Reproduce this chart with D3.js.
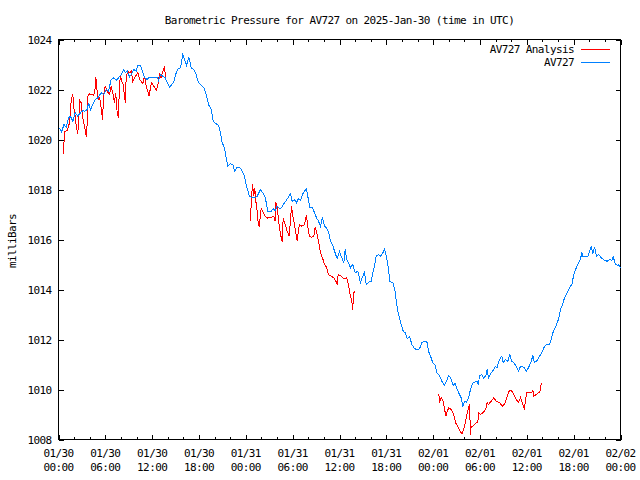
<!DOCTYPE html>
<html>
<head>
<meta charset="utf-8">
<script src="https://cdn.jsdelivr.net/npm/d3@7"></script>
<style>
  html, body { margin: 0; padding: 0; background: #fff; }
  svg { display: block; }
  text { font-family: "DejaVu Sans Mono", "Liberation Mono", monospace; font-size: 11px; letter-spacing: -0.6px; fill: #000; }
</style>
</head>
<body>
<script>
// ---------------- DATA ----------------
const chartTitle = "Barometric Pressure for AV727 on 2025-Jan-30 (time in UTC)";
const yAxisLabel = "milliBars";
const seriesNames = ["AV727 Analysis", "AV727"];
const seriesColors = ["#ff0000", "#0080ff"];
const startTimeUTC = Date.UTC(2025, 0, 30, 0, 0);
const endTimeUTC = Date.UTC(2025, 1, 2, 0, 0);
const yTickValues = [1008, 1010, 1012, 1014, 1016, 1018, 1020, 1022, 1024];

// AV727 observations: minutes since 2025-01-30 00:00 UTC, pressure (mb)
const blueMinutes = [8,15,25,41,59,77,92,110,128,148,169,187,200,221,231,246,264,282,302,328,348,367,384,405,425,444,461,482,502,513,528,546,563,579,597,610,630,640,661,682,700,717,738,759,769,784,802,820,840,853,871,886,905,922,938,955,969,984,1002,1020,1040,1058,1076,
1117,1135,1153,1174,1189,1212,1230,1245,1258,1276,1289,1301,1322,1340,1353,1374,1391,1409,1430,1445,1468,1486,1507,1527,1553,1570,1589,1609,1635,1650,1666,1681,1701,1716,1732,1750,1768,1783,1796,1814,1829,1845,1860,1878,1891,1906,1916,1932,1952,1968,1983,1999,2014,2029,2045,2060,2075,2091,2106,2122,2142,2160,2173,2193,2204,2214,2229,2245,2262,2281,2301,2321,2339,2352,2365,2383,2404,2416,2429,2442,2460,2475,2493,2506,2521,2537,2547,2570,2588,2598,2608,2621,2634,2650,2665,2680,2700,2716,2737,2757,2775,2793,2813,2834,2844,2860,2877,2896,2911,2929,2946,2967,2982,2998,3013,3034,3049,3065,3082,3095,3108,3121,3136,3152,3167,3182,3198,
3218,3228,3236,3254,3269,3288,3295,3305,3326,3346,3357,3372,3382,3398,3408,3418,3434,3454,3469,3484,3500,3518,3536,3551,3569,3582,3595,3613,3634,3646,3659,3680,3697,3715,3730,3749,3774,3787,3800,3818,3834,3849,3859,3874,3890,3910,3928,3946,3961,3980,3997,4013,4023,4030,4049,4069,4084,4095,4107,4120,4136,4151,4172,4197,4218,4235,4253,4264,4279,4295,4305,4318];
const blueValues = [1020.45,1020.40,1020.30,1020.60,1020.50,1020.87,1020.93,1020.73,1021.07,1020.93,1021.07,1021.16,1021.13,1021.20,1021.47,1021.20,1021.40,1021.60,1021.67,1021.87,1021.80,1022.00,1021.93,1022.40,1022.47,1022.36,1022.47,1022.60,1022.80,1022.67,1022.76,1022.50,1022.63,1022.80,1022.73,1022.97,1022.97,1022.80,1022.47,1022.40,1022.50,1022.50,1022.50,1022.50,1022.36,1022.60,1022.53,1022.47,1022.23,1022.10,1022.20,1022.30,1022.67,1022.84,1022.87,1023.40,1023.20,1022.97,1023.30,1022.87,1022.80,1022.60,1022.27,
1022.07,1021.80,1021.40,1021.20,1020.73,1020.63,1020.57,1020.27,1019.87,1019.67,1019.27,1018.93,1019.03,1019.00,1018.73,1018.90,1018.90,1018.76,1018.53,1018.13,1017.73,1017.69,1017.67,1017.73,1018.00,1017.87,1017.69,1017.13,1017.13,1017.23,1017.16,1017.33,1017.24,1017.27,1017.43,1017.56,1017.69,1017.83,1017.53,1017.60,1017.47,1017.64,1017.56,1017.83,1017.93,1018.04,1017.73,1017.29,1017.27,1017.07,1016.87,1016.73,1016.53,1016.89,1016.53,1016.47,1016.31,1015.93,1015.80,1015.53,1015.23,1015.53,1015.33,1015.07,1015.60,1015.23,1015.07,1014.87,1015.00,1014.67,1014.73,1014.27,1014.53,1014.69,1014.20,1014.29,1014.33,1014.67,1014.93,1015.33,1015.40,1015.33,1015.47,1015.60,1015.33,1014.80,1014.33,1014.27,1013.93,1013.47,1013.13,1012.87,1012.60,1012.33,1012.27,1012.03,1012.11,1011.80,1011.63,1011.60,1011.63,1011.87,1011.93,1011.89,1011.53,1011.33,1011.07,1010.96,1010.64,1010.56,1010.33,1010.16,1010.33,1010.56,1010.47,1010.16,1010.24,1010.00,1009.80,1009.67,1009.33,1009.53,1009.49,1009.67,1010.00,1010.24,1010.29,
1010.33,1010.20,1010.56,1010.60,1010.43,1010.60,1010.80,1010.47,1010.67,1010.80,1010.93,1010.87,1011.09,1011.27,1011.33,1011.07,1011.20,1011.13,1011.40,1011.13,1011.07,1010.93,1010.73,1010.93,1010.91,1010.87,1010.73,1010.87,1011.13,1011.36,1011.07,1011.17,1011.33,1011.47,1011.67,1011.80,1011.80,1012.00,1012.27,1012.47,1012.67,1012.91,1013.20,1013.40,1013.67,1013.87,1014.07,1014.20,1014.60,1014.87,1015.07,1015.23,1015.49,1015.31,1015.31,1015.33,1015.57,1015.71,1015.44,1015.71,1015.33,1015.40,1015.27,1015.17,1015.13,1015.20,1015.17,1015.31,1015.04,1014.96,1015.00,1014.87];

// AV727 Analysis: minutes since 2025-01-30 00:00 UTC, pressure (mb); null marks a gap
const redMinutes = [38,46,67,85,98,110,118,128,138,148,156,164,174,184,194,205,215,221,225,238,256,271,282,287,297,307,317,328,338,348,359,374,392,405,420,430,440,451,461,469,477,487,497,507,515,520,533,546,559,571,584,597,610,623,636,648,661,674,686,697,707,717,733,751,763,776,789,802,815,825,830,
1150,
1476,1481,1491,1501,1509,1517,1527,1535,1543,1550,1558,1570,1589,1604,1614,1635,1655,1666,1670,1681,1691,1701,1712,1720,1727,1743,1758,1773,1783,1791,1804,1814,1824,1835,1845,1853,1870,1891,1906,1916,1929,1947,1963,1973,1983,1999,2014,2029,2045,2060,2075,2096,2116,2132,2142,2150,2173,2193,2212,2219,2229,2237,2245,2255,2262,2268,2281,
2600,
2923,2929,2942,2959,2967,2980,2988,3000,3019,3031,3044,3052,3069,3088,3102,3121,3139,3159,3167,3172,3185,3211,3223,3230,3244,3261,3275,3288,3295,3305,3326,3346,3365,3390,3415,3434,3449,3467,3480,3500,3518,3536,3551,3569,3582,3590,3600,3621,3638,3646,3654,3672,3690,3700,3710,3718];
const redValues = [1019.40,1020.31,1020.36,1020.67,1021.60,1021.80,1021.27,1020.93,1020.47,1020.23,1020.84,1021.56,1021.47,1020.93,1020.67,1020.40,1020.09,1020.73,1021.73,1021.83,1021.80,1021.77,1022.07,1022.49,1021.93,1021.60,1021.67,1021.27,1020.80,1021.80,1022.13,1021.93,1021.80,1022.13,1021.80,1021.47,1021.87,1021.07,1020.87,1022.27,1022.53,1022.33,1022.20,1021.73,1021.47,1022.53,1022.73,1022.67,1022.73,1022.33,1022.47,1022.57,1022.67,1022.40,1022.33,1022.23,1022.53,1022.13,1021.93,1021.73,1022.09,1022.27,1022.13,1021.96,1022.13,1022.63,1022.47,1022.73,1022.89,1022.40,1022.36,
null,
1016.73,1017.43,1018.20,1017.73,1018.07,1017.53,1017.13,1016.67,1016.49,1016.87,1017.24,1017.13,1016.93,1016.84,1016.89,1016.89,1016.93,1016.73,1017.51,1017.27,1016.80,1016.40,1016.07,1015.91,1016.84,1016.60,1016.33,1016.13,1016.73,1017.33,1016.87,1016.60,1016.27,1015.93,1016.40,1016.60,1016.53,1016.60,1016.97,1016.53,1016.13,1016.09,1016.13,1016.49,1016.33,1015.93,1015.47,1015.27,1015.00,1014.89,1014.60,1014.53,1014.47,1014.33,1014.23,1014.60,1014.53,1014.43,1014.47,1014.40,1014.20,1013.93,1013.73,1013.53,1013.20,1013.87,1013.93,
null,
1009.84,1009.52,1009.67,1009.50,1009.20,1008.93,1009.13,1009.27,1009.20,1009.07,1008.87,1008.67,1008.53,1008.33,1008.22,1008.53,1009.00,1009.40,1008.20,1008.53,1008.53,1008.67,1008.69,1009.07,1009.00,1009.07,1009.13,1009.27,1009.49,1009.40,1009.53,1009.67,1009.53,1009.47,1009.33,1009.47,1009.73,1009.97,1009.97,1009.80,1009.60,1009.49,1009.67,1009.40,1009.20,1009.60,1009.87,1009.89,1009.87,1009.97,1009.73,1009.80,1009.87,1009.89,1010.20,1010.24];

// ---------------- CHART ----------------
const W = 640, H = 480;
const plotL = 58.5, plotR = 620.5, plotT = 39.5, plotB = 439.5;

const svg = d3.select("body").append("svg").attr("width", W).attr("height", H);

const x = d3.scaleUtc().domain([new Date(startTimeUTC), new Date(endTimeUTC)]).range([plotL, plotR]);
const y = d3.scaleLinear().domain([1008, 1024]).range([plotB, plotT]);

const toDate = m => new Date(startTimeUTC + m * 60000);
const blueData = blueMinutes.map((m, i) => ({ t: toDate(m), v: blueValues[i] }));
const redData = redMinutes.map((m, i) => ({ t: toDate(m), v: redValues[i] }));

const majorTicks = d3.utcHour.every(6).range(new Date(startTimeUTC), new Date(endTimeUTC + 1));
const minorTicks = d3.utcHour.every(2).range(new Date(startTimeUTC), new Date(endTimeUTC + 1))
  .filter(d => d.getUTCHours() % 6 !== 0);

function styleAxis(g) {
  g.select(".domain").remove();
  g.selectAll("line").attr("stroke", "#000").attr("shape-rendering", "crispEdges");
}

// bottom axis (ticks inward)
svg.append("g").attr("transform", `translate(0,${plotB})`)
  .call(d3.axisBottom(x).tickValues(majorTicks).tickSizeInner(-5).tickSizeOuter(0).tickFormat(""))
  .call(styleAxis);
svg.append("g").attr("transform", `translate(0,${plotB})`)
  .call(d3.axisBottom(x).tickValues(minorTicks).tickSizeInner(-2.5).tickSizeOuter(0).tickFormat(""))
  .call(styleAxis);
// top axis (mirror)
svg.append("g").attr("transform", `translate(0,${plotT})`)
  .call(d3.axisTop(x).tickValues(majorTicks).tickSizeInner(-5).tickSizeOuter(0).tickFormat(""))
  .call(styleAxis);
svg.append("g").attr("transform", `translate(0,${plotT})`)
  .call(d3.axisTop(x).tickValues(minorTicks).tickSizeInner(-2.5).tickSizeOuter(0).tickFormat(""))
  .call(styleAxis);
// left axis
svg.append("g").attr("transform", `translate(${plotL},0)`)
  .call(d3.axisLeft(y).tickValues(yTickValues).tickSizeInner(-5).tickSizeOuter(0).tickPadding(7).tickFormat(d3.format("d")))
  .call(styleAxis)
  .call(g => g.attr("font-family", null).attr("font-size", null)
    .selectAll("text").attr("fill", "#000").attr("dy", "0.35em"));
// right axis
svg.append("g").attr("transform", `translate(${plotR},0)`)
  .call(d3.axisRight(y).tickValues(yTickValues).tickSizeInner(-5).tickSizeOuter(0).tickFormat(""))
  .call(styleAxis);

// x tick labels (two lines)
const fmtDate = d3.utcFormat("%m/%d"), fmtTime = d3.utcFormat("%H:%M");
const xl = svg.append("g");
xl.selectAll("text.d").data(majorTicks).join("text").attr("class", "d")
  .attr("x", d => x(d)).attr("y", 457).attr("text-anchor", "middle").text(fmtDate);
xl.selectAll("text.t").data(majorTicks).join("text").attr("class", "t")
  .attr("x", d => x(d)).attr("y", 471).attr("text-anchor", "middle").text(fmtTime);

// border
svg.append("rect").attr("x", plotL).attr("y", plotT).attr("width", plotR - plotL).attr("height", plotB - plotT)
  .attr("fill", "none").attr("stroke", "#000").attr("shape-rendering", "crispEdges");

// lines
const line = d3.line().defined(d => d.v != null).x(d => x(d.t)).y(d => y(d.v));
svg.append("path").datum(redData).attr("d", line).attr("fill", "none")
  .attr("stroke", seriesColors[0]).attr("stroke-width", 1).attr("shape-rendering", "crispEdges");
svg.append("path").datum(blueData).attr("d", line).attr("fill", "none")
  .attr("stroke", seriesColors[1]).attr("stroke-width", 1).attr("shape-rendering", "crispEdges");

// title
svg.append("text").attr("x", (plotL + plotR) / 2).attr("y", 24).attr("text-anchor", "middle").text(chartTitle);
// y label
svg.append("text").attr("transform", `translate(16,241) rotate(-90)`).attr("text-anchor", "middle").text(yAxisLabel);

// legend
const lg = svg.append("g");
seriesNames.forEach((name, i) => {
  const ly = 49.5 + i * 13;
  lg.append("text").attr("x", 574).attr("y", ly + 3.5).attr("text-anchor", "end").text(name);
  lg.append("line").attr("x1", 581).attr("x2", 610).attr("y1", ly).attr("y2", ly)
    .attr("stroke", seriesColors[i]).attr("shape-rendering", "crispEdges");
});
</script>
</body>
</html>
